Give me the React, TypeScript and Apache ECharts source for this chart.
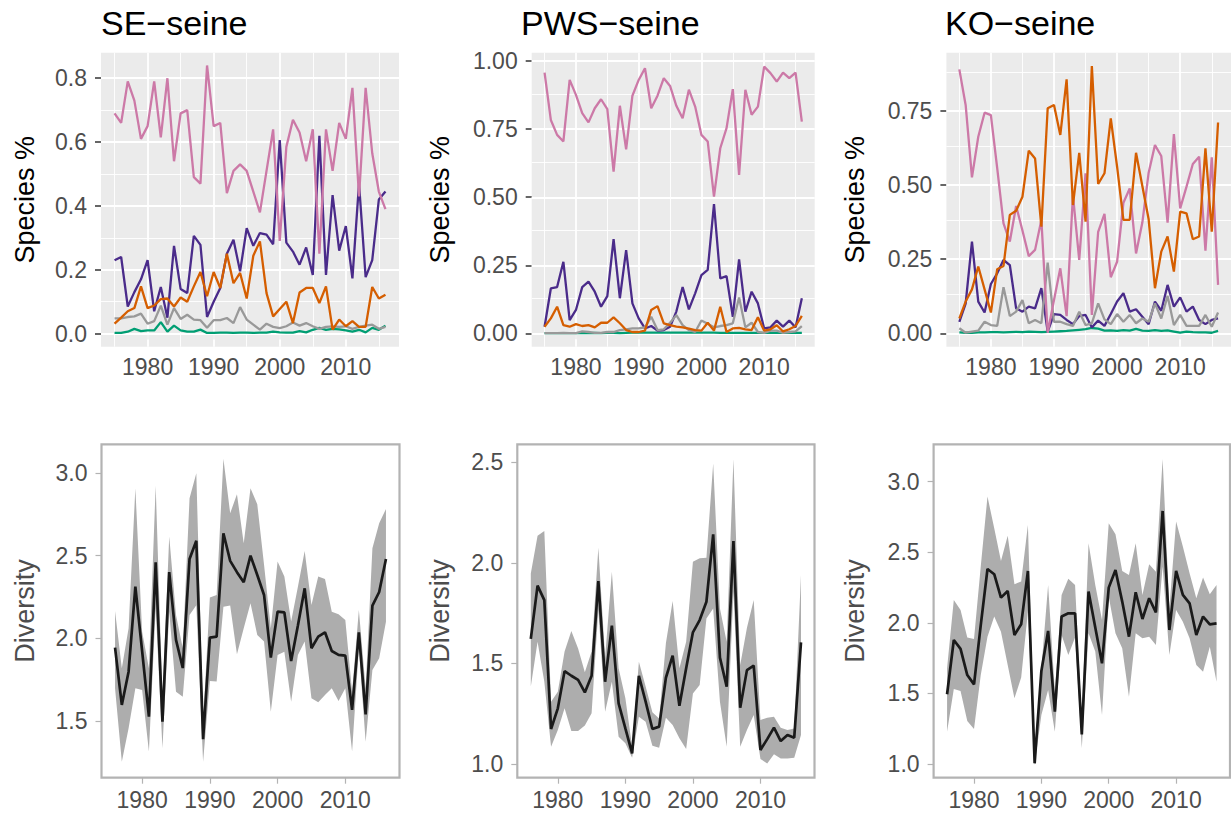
import React, { useEffect, useRef } from "react";
import * as echarts from "echarts";

// ---------- data ----------
const TOP_YEARS = [1975, 1976, 1977, 1978, 1979, 1980, 1981, 1982, 1983, 1984, 1985, 1986, 1987, 1988, 1989, 1990, 1991, 1992, 1993, 1994, 1995, 1996, 1997, 1998, 1999, 2000, 2001, 2002, 2003, 2004, 2005, 2006, 2007, 2008, 2009, 2010, 2011, 2012, 2013, 2014, 2015, 2016];
const DIV_YEARS = [1976, 1977, 1978, 1979, 1980, 1981, 1982, 1983, 1984, 1985, 1986, 1987, 1988, 1989, 1990, 1991, 1992, 1993, 1994, 1995, 1996, 1997, 1998, 1999, 2000, 2001, 2002, 2003, 2004, 2005, 2006, 2007, 2008, 2009, 2010, 2011, 2012, 2013, 2014, 2015, 2016];

const X_TICKS = [1980, 1990, 2000, 2010];
const X_MINOR = [1975, 1985, 1995, 2005, 2015];

// SE-seine species proportions
const SE_PINK = [0.69, 0.66, 0.79, 0.73, 0.61, 0.65, 0.79, 0.615, 0.80, 0.54, 0.69, 0.70, 0.49, 0.47, 0.84, 0.65, 0.66, 0.44, 0.51, 0.53, 0.51, 0.445, 0.38, 0.51, 0.64, 0.29, 0.585, 0.67, 0.63, 0.54, 0.64, 0.25, 0.64, 0.51, 0.66, 0.61, 0.77, 0.43, 0.77, 0.565, 0.445, 0.39];
const SE_PURPLE = [0.23, 0.24, 0.085, 0.13, 0.17, 0.23, 0.07, 0.146, 0.05, 0.275, 0.14, 0.127, 0.306, 0.278, 0.052, 0.10, 0.143, 0.25, 0.294, 0.195, 0.33, 0.275, 0.315, 0.31, 0.28, 0.606, 0.285, 0.257, 0.216, 0.27, 0.184, 0.62, 0.184, 0.434, 0.26, 0.337, 0.173, 0.47, 0.177, 0.23, 0.42, 0.445];
const SE_ORANGE = [0.031, 0.05, 0.07, 0.08, 0.148, 0.08, 0.088, 0.108, 0.11, 0.085, 0.113, 0.10, 0.148, 0.193, 0.117, 0.193, 0.143, 0.25, 0.158, 0.19, 0.11, 0.244, 0.289, 0.127, 0.054, 0.077, 0.10, 0.033, 0.129, 0.143, 0.143, 0.096, 0.148, 0.0125, 0.044, 0.023, 0.039, 0.021, 0.021, 0.146, 0.11, 0.122];
const SE_GRAY = [0.048, 0.048, 0.052, 0.054, 0.0625, 0.031, 0.039, 0.0875, 0.028, 0.08, 0.046, 0.059, 0.044, 0.042, 0.018, 0.042, 0.042, 0.049, 0.033, 0.083, 0.044, 0.028, 0.0125, 0.031, 0.021, 0.017, 0.023, 0.035, 0.025, 0.033, 0.023, 0.015, 0.021, 0.023, 0.021, 0.023, 0.015, 0.021, 0.025, 0.028, 0.015, 0.021];
const SE_GREEN = [0.002, 0.002, 0.006, 0.015, 0.008, 0.01, 0.01, 0.036, 0.006, 0.025, 0.01, 0.006, 0.006, 0.0125, 0.002, 0.002, 0.003, 0.003, 0.002, 0.003, 0.003, 0.002, 0.003, 0.003, 0.006, 0.004, 0.003, 0.003, 0.008, 0.004, 0.012, 0.018, 0.012, 0.015, 0.013, 0.01, 0.006, 0.012, 0.004, 0.018, 0.012, 0.025];

// PWS-seine species proportions
const PWS_PINK = [0.958, 0.784, 0.729, 0.705, 0.931, 0.876, 0.809, 0.775, 0.827, 0.86, 0.824, 0.594, 0.836, 0.676, 0.873, 0.931, 0.974, 0.827, 0.873, 0.9375, 0.909, 0.836, 0.79, 0.895, 0.833, 0.729, 0.705, 0.502, 0.68, 0.754, 0.897, 0.582, 0.895, 0.803, 0.833, 0.98, 0.956, 0.925, 0.958, 0.9375, 0.958, 0.778];
const PWS_PURPLE = [0.0245, 0.165, 0.17, 0.263, 0.049, 0.086, 0.17, 0.19, 0.153, 0.098, 0.137, 0.346, 0.129, 0.306, 0.11, 0.055, 0.018, 0.027, 0.01, 0.012, 0.0245, 0.08, 0.17, 0.088, 0.147, 0.214, 0.233, 0.475, 0.202, 0.21, 0.061, 0.272, 0.08, 0.153, 0.11, 0.018, 0.022, 0.047, 0.0245, 0.047, 0.022, 0.129];
const PWS_ORANGE = [0.0245, 0.055, 0.098, 0.03, 0.0245, 0.034, 0.027, 0.03, 0.022, 0.039, 0.039, 0.059, 0.037, 0.012, 0.005, 0.005, 0.01, 0.086, 0.10, 0.037, 0.03, 0.0245, 0.022, 0.017, 0.012, 0.01, 0.039, 0.01, 0.098, 0.005, 0.018, 0.02, 0.015, 0.012, 0.059, 0.01, 0.015, 0.03, 0.007, 0.015, 0.027, 0.064];
const PWS_GRAY = [0.001, 0.001, 0.001, 0.002, 0.001, 0.001, 0.007, 0.005, 0.002, 0.002, 0.005, 0.005, 0.012, 0.015, 0.018, 0.018, 0.022, 0.061, 0.012, 0.015, 0.039, 0.067, 0.03, 0.012, 0.005, 0.047, 0.035, 0.022, 0.027, 0.03, 0.037, 0.132, 0.022, 0.039, 0.005, 0.002, 0.01, 0.01, 0.002, 0.005, 0.007, 0.027];
const PWS_GREEN = [0.001, 0.001, 0.001, 0.001, 0.001, 0.001, 0.001, 0.001, 0.002, 0.001, 0.002, 0.002, 0.001, 0.002, 0.003, 0.003, 0.003, 0.003, 0.003, 0.003, 0.003, 0.003, 0.003, 0.003, 0.003, 0.003, 0.003, 0.003, 0.002, 0.002, 0.002, 0.002, 0.002, 0.002, 0.002, 0.002, 0.002, 0.002, 0.002, 0.002, 0.002, 0.002];

// KO-seine species proportions
const KO_PINK = [0.889, 0.769, 0.525, 0.662, 0.743, 0.735, 0.556, 0.37, 0.309, 0.429, 0.346, 0.26, 0.281, 0.382, 0.002, 0.112, 0.219, 0.058, 0.466, 0.247, 0.539, 0.062, 0.342, 0.402, 0.189, 0.241, 0.44, 0.488, 0.269, 0.373, 0.541, 0.634, 0.597, 0.373, 0.671, 0.421, 0.494, 0.57, 0.595, 0.278, 0.593, 0.163];
const KO_ORANGE = [0.05, 0.107, 0.148, 0.225, 0.148, 0.07, 0.216, 0.227, 0.399, 0.413, 0.46, 0.615, 0.589, 0.359, 0.758, 0.769, 0.668, 0.855, 0.432, 0.608, 0.376, 0.90, 0.503, 0.539, 0.724, 0.561, 0.382, 0.382, 0.608, 0.496, 0.384, 0.152, 0.275, 0.326, 0.208, 0.41, 0.404, 0.317, 0.326, 0.623, 0.342, 0.71];
const KO_PURPLE = [0.039, 0.10, 0.309, 0.107, 0.07, 0.166, 0.202, 0.247, 0.23, 0.084, 0.073, 0.09, 0.084, 0.152, 0.006, 0.065, 0.062, 0.045, 0.031, 0.058, 0.062, 0.02, 0.043, 0.025, 0.065, 0.107, 0.135, 0.073, 0.081, 0.056, 0.031, 0.107, 0.076, 0.163, 0.09, 0.121, 0.073, 0.09, 0.045, 0.031, 0.045, 0.05];
const KO_GRAY = [0.017, 0.002, 0.006, 0.009, 0.039, 0.028, 0.025, 0.155, 0.058, 0.073, 0.112, 0.034, 0.045, 0.034, 0.238, 0.039, 0.039, 0.031, 0.025, 0.073, 0.028, 0.034, 0.101, 0.047, 0.031, 0.065, 0.039, 0.062, 0.034, 0.05, 0.039, 0.101, 0.05, 0.126, 0.028, 0.062, 0.025, 0.025, 0.025, 0.062, 0.022, 0.07];
const KO_GREEN = [0.003, 0.002, 0.002, 0.003, 0.003, 0.004, 0.004, 0.003, 0.004, 0.005, 0.004, 0.006, 0.005, 0.004, 0.005, 0.006, 0.007, 0.008, 0.010, 0.012, 0.014, 0.018, 0.016, 0.009, 0.010, 0.008, 0.011, 0.009, 0.015, 0.009, 0.008, 0.011, 0.008, 0.010, 0.006, 0.002, 0.006, 0.004, 0.003, 0.003, 0.002, 0.008];

// Diversity (mean, lower, upper)
const SE_DIV = [1.944, 1.597, 1.798, 2.313, 1.923, 1.526, 2.46, 1.496, 2.40, 1.99, 1.82, 2.48, 2.59, 1.39, 2.004, 2.01, 2.635, 2.468, 2.40, 2.339, 2.50, 2.383, 2.262, 1.883, 2.161, 2.157, 1.863, 2.077, 2.302, 1.94, 2.01, 2.036, 1.923, 1.90, 1.895, 1.567, 2.036, 1.54, 2.198, 2.28, 2.48];
const SE_DIV_UP = [2.165, 1.819, 2.06, 2.907, 2.04, 1.819, 2.923, 1.637, 2.615, 2.141, 1.94, 2.847, 2.998, 1.496, 2.246, 2.262, 3.085, 2.756, 2.871, 2.575, 2.907, 2.81, 2.444, 2.06, 2.464, 2.373, 2.101, 2.312, 2.528, 2.202, 2.373, 2.359, 2.161, 2.145, 2.111, 1.677, 2.171, 1.698, 2.544, 2.696, 2.782];
const SE_DIV_LO = [1.698, 1.254, 1.456, 1.698, 1.6875, 1.315, 2.181, 1.335, 2.161, 1.677, 1.647, 2.141, 2.20, 1.254, 1.742, 1.738, 2.19, 2.198, 1.903, 2.06, 2.212, 2.02, 1.98, 1.556, 1.899, 1.919, 1.617, 1.899, 1.98, 1.637, 1.613, 1.657, 1.698, 1.621, 1.698, 1.315, 1.94, 1.375, 1.808, 1.879, 2.10];

const PWS_DIV = [1.622, 1.887, 1.815, 1.174, 1.277, 1.462, 1.439, 1.418, 1.356, 1.439, 1.91, 1.409, 1.688, 1.302, 1.177, 1.053, 1.439, 1.31, 1.174, 1.186, 1.429, 1.539, 1.29, 1.476, 1.655, 1.716, 1.807, 2.142, 1.529, 1.385, 2.109, 1.28, 1.467, 1.489, 1.07, 1.124, 1.181, 1.114, 1.144, 1.131, 1.605];
const PWS_DIV_UP = [1.948, 2.135, 2.159, 1.31, 1.36, 1.559, 1.661, 1.575, 1.456, 1.559, 2.076, 1.529, 1.956, 1.476, 1.327, 1.086, 1.509, 1.385, 1.257, 1.227, 1.60, 1.811, 1.476, 1.608, 2.006, 2.023, 2.026, 2.495, 1.774, 1.608, 2.517, 1.492, 1.678, 1.816, 1.219, 1.23, 1.235, 1.181, 1.169, 1.177, 1.94];
const PWS_DIV_LO = [1.385, 1.608, 1.409, 1.086, 1.169, 1.277, 1.164, 1.164, 1.191, 1.252, 1.766, 1.26, 1.409, 1.136, 1.103, 1.031, 1.235, 1.21, 1.091, 1.081, 1.23, 1.194, 1.128, 1.075, 1.351, 1.393, 1.724, 1.774, 1.31, 1.086, 1.857, 1.086, 1.169, 1.244, 1.025, 1.003, 1.048, 1.028, 1.028, 1.031, 1.144];

const KO_DIV = [1.494, 1.878, 1.815, 1.63, 1.564, 1.983, 2.381, 2.344, 2.178, 2.225, 1.914, 1.989, 2.367, 1.005, 1.659, 1.942, 1.371, 2.044, 2.067, 2.067, 1.21, 2.221, 1.966, 1.713, 2.249, 2.374, 2.15, 1.902, 2.216, 2.027, 2.174, 2.074, 2.792, 1.949, 2.367, 2.197, 2.138, 1.914, 2.044, 1.989, 1.996];
const KO_DIV_UP = [1.678, 2.162, 2.091, 1.895, 1.886, 2.398, 2.894, 2.669, 2.438, 2.617, 2.273, 2.292, 2.693, 1.111, 1.678, 2.268, 1.512, 2.197, 2.311, 2.268, 1.312, 2.563, 2.268, 2.02, 2.705, 2.627, 2.367, 2.339, 2.563, 2.197, 2.414, 2.362, 3.16, 2.103, 2.717, 2.54, 2.351, 2.174, 2.32, 2.202, 2.268];
const KO_DIV_LO = [1.229, 1.531, 1.517, 1.305, 1.248, 1.63, 1.902, 2.044, 1.937, 1.701, 1.465, 1.612, 2.079, 0.993, 1.347, 1.524, 1.229, 1.914, 1.772, 1.895, 1.111, 1.926, 1.796, 1.347, 2.185, 1.926, 1.819, 1.477, 1.926, 1.89, 1.902, 1.843, 2.398, 1.772, 2.091, 2.008, 1.89, 1.701, 1.654, 1.831, 1.583];

const SE_Y_TICKS = [0, 0.2, 0.4, 0.6, 0.8];
const SE_Y_MINOR = [0.1, 0.3, 0.5, 0.7];
const Q_Y_TICKS = [0, 0.25, 0.5, 0.75, 1.0];
const Q_Y_MINOR = [0.125, 0.375, 0.625, 0.875];
const KO_Y_TICKS = [0, 0.25, 0.5, 0.75];
const SE_DIV_TICKS = [1.5, 2.0, 2.5, 3.0];
const PWS_DIV_TICKS = [1.0, 1.5, 2.0, 2.5];
const KO_DIV_TICKS = [1.0, 1.5, 2.0, 2.5, 3.0];

const TITLES = ["SE\u2212seine", "PWS\u2212seine", "KO\u2212seine"];

// ---------- styling ----------
const COLORS = { green: "#009E73", purple: "#4A2B8A", gray: "#999999", pink: "#CC79A7", orange: "#D55E00" };
const FONT = "'Liberation Sans', Arial, Helvetica, sans-serif";

const pairs = (xs: number[], ys: number[]) => xs.map((x, i) => [x, ys[i]]);

export default function App() {
  const ref = useRef<HTMLDivElement>(null);

  useEffect(() => {
    if (!ref.current) return;
    const chart = echarts.init(ref.current, undefined, { renderer: "svg" });

    const topPanels = [
      { left: 101, width: 298, ymin: -0.041, ymax: 0.88, ticks: SE_Y_TICKS, minor: SE_Y_MINOR, dec: 1, titleX: 101,
        lines: { green: SE_GREEN, purple: SE_PURPLE, gray: SE_GRAY, pink: SE_PINK, orange: SE_ORANGE } },
      { left: 531.7, width: 283, ymin: -0.049, ymax: 1.031, ticks: Q_Y_TICKS, minor: Q_Y_MINOR, dec: 2, titleX: 521,
        lines: { green: PWS_GREEN, purple: PWS_PURPLE, gray: PWS_GRAY, pink: PWS_PINK, orange: PWS_ORANGE } },
      { left: 946.4, width: 284.6, ymin: -0.045, ymax: 0.945, ticks: KO_Y_TICKS, minor: Q_Y_MINOR, dec: 2, titleX: 945,
        lines: { green: KO_GREEN, purple: KO_PURPLE, gray: KO_GRAY, pink: KO_PINK, orange: KO_ORANGE } },
    ];
    const botPanels = [
      { left: 101.5, width: 298, ymin: 1.157, ymax: 3.173, ticks: SE_DIV_TICKS, mean: SE_DIV, lo: SE_DIV_LO, up: SE_DIV_UP },
      { left: 517.3, width: 297.2, ymin: 0.932, ymax: 2.59, ticks: PWS_DIV_TICKS, mean: PWS_DIV, lo: PWS_DIV_LO, up: PWS_DIV_UP },
      { left: 933.6, width: 296.4, ymin: 0.903, ymax: 3.264, ticks: KO_DIV_TICKS, mean: KO_DIV, lo: KO_DIV_LO, up: KO_DIV_UP },
    ];

    const grids: any[] = [];
    const xAxes: any[] = [];
    const yAxes: any[] = [];
    const series: any[] = [];
    const graphics: any[] = [];

    const labelStyle = { fontSize: 23, color: "#4d4d4d", fontFamily: FONT };

    topPanels.forEach((p, i) => {
      grids.push({ left: p.left, top: 52.7, width: p.width, height: 294, show: true, backgroundColor: "#EBEBEB", borderWidth: 0 });
      xAxes.push({
        type: "value", gridIndex: i, min: 1972.95, max: 2018.05,
        axisLine: { show: false },
        axisTick: { show: true, customValues: X_TICKS, length: 6, lineStyle: { color: "#333333", width: 1.5 } },
        axisLabel: { ...labelStyle, customValues: X_TICKS, margin: 9, formatter: (v: number) => String(Math.round(v)) },
        splitLine: { show: false },
      });
      yAxes.push({
        type: "value", gridIndex: i, min: p.ymin, max: p.ymax,
        axisLine: { show: false },
        axisTick: { show: true, customValues: p.ticks, length: 6, lineStyle: { color: "#333333", width: 1.5 } },
        axisLabel: { ...labelStyle, customValues: p.ticks, margin: 14, formatter: (v: number) => v.toFixed(p.dec) },
        splitLine: { show: false },
      });
      const major = { color: "#FFFFFF", width: 1.8, type: "solid" };
      const minor = { color: "#FFFFFF", width: 0.9, type: "solid" };
      series.push({
        type: "line", xAxisIndex: i, yAxisIndex: i, data: [], symbol: "none", silent: true, z: 1,
        markLine: {
          silent: true, z: 1, symbol: ["none", "none"], label: { show: false }, animation: false,
          emphasis: { disabled: true },
          data: [
            ...X_MINOR.map((v) => ({ xAxis: v, lineStyle: minor })),
            ...p.minor.map((v) => ({ yAxis: v, lineStyle: minor })),
            ...X_TICKS.map((v) => ({ xAxis: v, lineStyle: major })),
            ...p.ticks.map((v) => ({ yAxis: v, lineStyle: major })),
          ],
        },
      });
      (["green", "purple", "gray", "pink", "orange"] as const).forEach((k) => {
        series.push({
          type: "line", xAxisIndex: i, yAxisIndex: i, data: pairs(TOP_YEARS, (p.lines as any)[k]),
          symbol: "none", z: 10, lineStyle: { color: COLORS[k], width: 2.3 }, silent: true,
        });
      });
      graphics.push({
        type: "text", x: p.titleX, y: 23, style: { text: TITLES[i], font: `34px ${FONT}`, fill: "#000", textAlign: "left", textVerticalAlign: "middle" },
      });
    });

    const titleX = [24.5, 439.5, 854.5];
    topPanels.forEach((p, i) => {
      graphics.push({
        type: "text", x: titleX[i], y: 52.7 + 147, rotation: Math.PI / 2,
        style: { text: "Species %", font: `27px ${FONT}`, fill: "#000", textAlign: "center", textVerticalAlign: "middle" },
      });
    });

    botPanels.forEach((p, j) => {
      const gi = j + 3;
      grids.push({ left: p.left, top: 444.3, width: p.width, height: 333.4, show: true, backgroundColor: "#FFFFFF", borderColor: "#B3B3B3", borderWidth: 2.2 });
      xAxes.push({
        type: "value", gridIndex: gi, min: 1974, max: 2018,
        axisLine: { show: false },
        axisTick: { show: true, customValues: X_TICKS, length: 6, lineStyle: { color: "#B3B3B3", width: 1.2 } },
        axisLabel: { ...labelStyle, customValues: X_TICKS, margin: 11, formatter: (v: number) => String(Math.round(v)) },
        splitLine: { show: false },
      });
      yAxes.push({
        type: "value", gridIndex: gi, min: p.ymin, max: p.ymax,
        axisLine: { show: false },
        axisTick: { show: true, customValues: p.ticks, length: 6, lineStyle: { color: "#B3B3B3", width: 1.2 } },
        axisLabel: { ...labelStyle, customValues: p.ticks, margin: 14, formatter: (v: number) => v.toFixed(1) },
        splitLine: { show: false },
      });
      const up = p.up;
      const lo = p.lo;
      series.push({
        type: "custom", xAxisIndex: gi, yAxisIndex: gi, coordinateSystem: "cartesian2d",
        data: [[DIV_YEARS[0], p.mean[0]]], silent: true, z: 2, clip: true,
        renderItem: (_params: any, api: any) => {
          const top = DIV_YEARS.map((yr, k) => api.coord([yr, up[k]]));
          const bottom = DIV_YEARS.map((yr, k) => api.coord([yr, lo[k]])).reverse();
          return { type: "polygon", shape: { points: top.concat(bottom) }, style: { fill: "#ADADAD", stroke: "none" } };
        },
      });
      series.push({
        type: "line", xAxisIndex: gi, yAxisIndex: gi, data: pairs(DIV_YEARS, p.mean),
        symbol: "none", lineStyle: { color: "#1A1A1A", width: 2.7 }, silent: true, z: 5,
      });
      graphics.push({
        type: "text", x: titleX[j], y: 444.3 + 166.7, rotation: Math.PI / 2,
        style: { text: "Diversity", font: `27px ${FONT}`, fill: "#4d4d4d", textAlign: "center", textVerticalAlign: "middle" },
      });
    });

    chart.setOption({
      animation: false,
      backgroundColor: "#FFFFFF",
      textStyle: { fontFamily: FONT },
      grid: grids,
      xAxis: xAxes,
      yAxis: yAxes,
      series,
      graphic: graphics,
    });

    return () => chart.dispose();
  }, []);

  return <div ref={ref} style={{ position: "absolute", left: 0, top: 0, width: 1231, height: 816 }} />;
}
